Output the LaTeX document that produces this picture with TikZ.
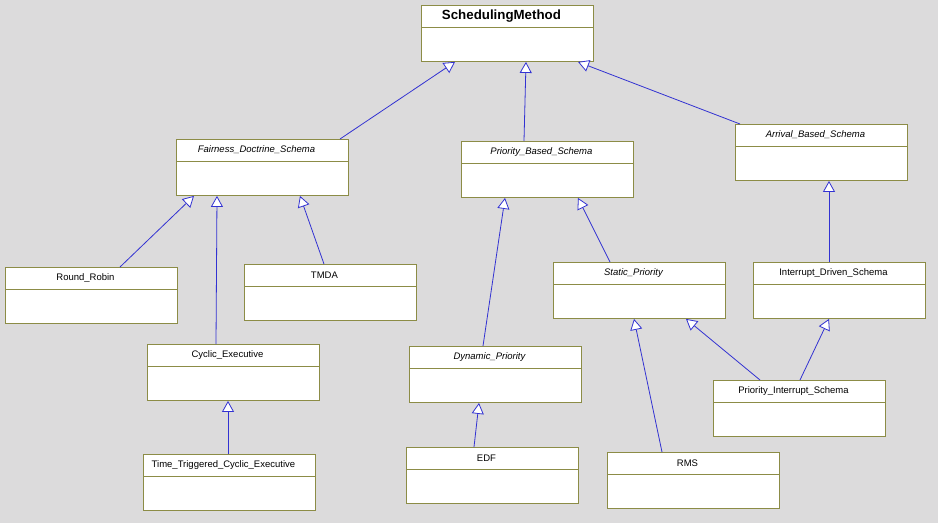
\documentclass[tikz,border=0pt]{standalone}
\usepackage{fontspec}
\setmainfont{Liberation Sans}
\usetikzlibrary{arrows.meta, calc}
\definecolor{bggray}{RGB}{220,219,220}
\definecolor{boxolive}{RGB}{140,140,70}
\definecolor{lineblue}{RGB}{50,50,210}

\begin{document}
\begin{tikzpicture}[x=1pt, y=-1pt,
  umlclass/.style={draw=boxolive, fill=white, line width=0.9pt, anchor=north west,
    minimum width=172pt, minimum height=56pt, inner sep=0pt},
  inherit/.style={draw=lineblue, line width=0.8pt,
    -{Triangle[open, fill=white, length=11pt, width=12pt]}},
  upright/.style={font=\fontsize{9.5}{11}\selectfont},
  slanted/.style={font=\fontsize{9.5}{11}\selectfont\itshape},
  heading/.style={font=\fontsize{13.3}{16}\selectfont\bfseries}]
  \fill[bggray] (0,0) rectangle (938,523);
  % classes: name/x/y/text/style
  \foreach \n/\x/\y/\t/\s in {
      sm/421/5/SchedulingMethod/heading,
      fds/176/139/Fairness\_Doctrine\_Schema/slanted,
      pbs/461/141/Priority\_Based\_Schema/slanted,
      abs/735/124/Arrival\_Based\_Schema/slanted,
      rr/5/267/Round\_Robin/upright,
      tmda/244/264/TMDA/upright,
      sp/553/262/Static\_Priority/slanted,
      ids/753/262/Interrupt\_Driven\_Schema/upright,
      ce/147/344/Cyclic\_Executive/upright,
      dp/409/346/Dynamic\_Priority/slanted,
      pis/713/380/Priority\_Interrupt\_Schema/upright,
      ttce/143/454/Time\_Triggered\_Cyclic\_Executive/upright,
      edf/406/447/EDF/upright,
      rms/607/452/RMS/upright}{
    \node[umlclass] (\n) at (\x,\y) {};
    \draw[boxolive, line width=0.9pt] ($(\n.north west)+(0,22)$) -- ($(\n.north east)+(0,22)$);
    \node[\s, inner sep=0pt] (\n-name) at ($(\n.north)+(-6,11)$) {\t};
  }
  % generalisations
  \draw[inherit] ($(fds.north west)+(164,0)$) -- ($(sm.south west)+(34,0)$);
  \draw[inherit] ($(pbs.north west)+(63,0)$) -- ($(sm.south west)+(105,0)$);
  \draw[inherit] ($(abs.north west)+(5,0)$) -- ($(sm.south west)+(157,0)$);
  \draw[inherit] ($(rr.north west)+(115,0)$) -- ($(fds.south west)+(18,0)$);
  \draw[inherit] ($(ce.north west)+(69,0)$) -- ($(fds.south west)+(41,0)$);
  \draw[inherit] ($(tmda.north west)+(80,0)$) -- ($(fds.south west)+(124,0)$);
  \draw[inherit] ($(dp.north west)+(74,0)$) -- ($(pbs.south west)+(44,0)$);
  \draw[inherit] ($(sp.north west)+(57,0)$) -- ($(pbs.south west)+(117,0)$);
  \draw[inherit] ($(ids.north west)+(76,0)$) -- ($(abs.south west)+(94,0)$);
  \draw[inherit] ($(ttce.north west)+(85,0)$) -- ($(ce.south west)+(81,0)$);
  \draw[inherit] ($(edf.north west)+(68,0)$) -- ($(dp.south west)+(70,0)$);
  \draw[inherit] ($(rms.north west)+(55,0)$) -- ($(sp.south west)+(81,0)$);
  \draw[inherit] ($(pis.north west)+(47,0)$) -- ($(sp.south west)+(133,0)$);
  \draw[inherit] ($(pis.north west)+(87,0)$) -- ($(ids.south west)+(76,0)$);
\end{tikzpicture}
\end{document}
